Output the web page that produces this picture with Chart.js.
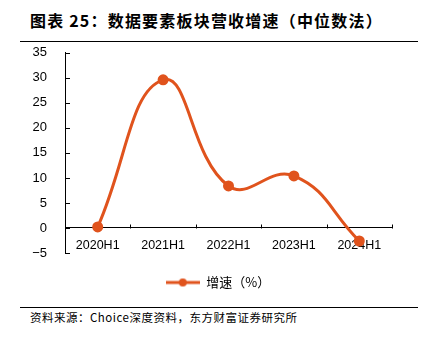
<!DOCTYPE html>
<html>
<head>
<meta charset="utf-8">
<script src="https://cdn.jsdelivr.net/npm/chart.js@4"></script>
<style>
  html, body { margin: 0; padding: 0; background: #fff; }
  #wrap { position: relative; width: 421px; height: 342px; overflow: hidden; }
  #title { position: absolute; left: 30px; top: 8px; font: bold 16px "Noto Sans CJK SC", sans-serif; color: #000; letter-spacing: 1.2px; }
  .rule { position: absolute; left: 20px; width: 398px; height: 1px; background: #000; }
  #src { position: absolute; left: 30px; top: 309px; font: 11.5px "Noto Sans CJK SC", sans-serif; color: #000; letter-spacing: 0.5px; }
  #c { position: absolute; left: 0; top: 35px; }
</style>
</head>
<body>
<div id="wrap">
  <div id="title">图表 25：数据要素板块营收增速（中位数法）</div>
  <div class="rule" style="top:41px"></div>
  <canvas id="c" width="421" height="264"></canvas>
  <div class="rule" style="top:307px"></div>
  <div id="src">资料来源：Choice深度资料，东方财富证券研究所</div>
</div>
<script>
const categories = ["2020H1", "2021H1", "2022H1", "2023H1", "2024H1"];
const growth = [0.2, 29.6, 8.4, 10.4, -2.6];
const seriesLabel = "增速（%）";
const lineColor = "#E0531D";

// legend symbol: short line with a dot
function legendSymbol() {
  const cv = document.createElement("canvas");
  cv.width = 34; cv.height = 10;
  const g = cv.getContext("2d");
  g.strokeStyle = lineColor; g.lineWidth = 3;
  g.beginPath(); g.moveTo(0, 5); g.lineTo(34, 5); g.stroke();
  g.fillStyle = lineColor;
  g.beginPath(); g.arc(17, 5, 4, 0, Math.PI * 2); g.fill();
  return cv;
}

// inward tick marks on both axes
const innerTicks = {
  id: "innerTicks",
  afterLayout(chart) {
    // legend sits a bit right of centre in the original
    chart.legend.left += 44;
  },
  afterDatasetsDraw(chart) {
    const { ctx, scales: { x, y } } = chart;
    ctx.save();
    ctx.strokeStyle = "#000"; ctx.lineWidth = 1;
    ctx.beginPath();
    y.ticks.forEach((t, i) => {
      const py = Math.round(y.getPixelForTick(i)) + 0.5;
      ctx.moveTo(x.left, py); ctx.lineTo(x.left + 5, py);
    });
    const y0 = Math.round(y.getPixelForValue(0)) + 0.5;
    const step = (x.right - x.left) / categories.length;
    for (let i = 0; i <= categories.length; i++) {
      const px = Math.round(x.left + i * step) + 0.5;
      ctx.moveTo(px, y0); ctx.lineTo(px, y0 - 4);
    }
    ctx.stroke();
    ctx.restore();
  }
};

new Chart(document.getElementById("c"), {
  type: "line",
  data: {
    labels: categories,
    datasets: [{
      label: seriesLabel,
      data: growth,
      borderColor: lineColor,
      backgroundColor: lineColor,
      borderWidth: 3,
      tension: 0.45,
      pointRadius: 4,
      pointHoverRadius: 4,
      pointStyle: "circle"
    }]
  },
  options: {
    responsive: false,
    animation: false,
    layout: { padding: { top: 1, right: 29, bottom: 0, left: 0 } },
    plugins: {
      tooltip: { enabled: false },
      legend: {
        position: "bottom",
        labels: {
          usePointStyle: true,
          pointStyleWidth: 34,
          color: "#000",
          font: { family: "Noto Sans CJK SC", size: 13 },
          padding: 23,
          generateLabels: () => [{
            text: seriesLabel,
            pointStyle: legendSymbol(),
            fillStyle: lineColor,
            strokeStyle: lineColor,
            lineWidth: 0,
            datasetIndex: 0
          }]
        }
      }
    },
    scales: {
      x: {
        type: "category",
        position: { y: 0 },
        offset: true,
        border: { color: "#000", width: 1 },
        grid: { display: false },
        ticks: { color: "#000", font: { family: "Liberation Sans", size: 12.5 }, padding: 2, maxRotation: 0, autoSkip: false }
      },
      y: {
        min: -5,
        max: 35,
        afterFit: (s) => { s.width = 65; },
        border: { color: "#000", width: 1 },
        grid: { display: false },
        ticks: {
          stepSize: 5,
          color: "#000",
          font: { family: "Liberation Sans", size: 13 },
          padding: 10,
          callback: (v) => (v < 0 ? "\u2212" + Math.abs(v) : v)
        }
      }
    }
  },
  plugins: [innerTicks]
});
</script>
</body>
</html>
